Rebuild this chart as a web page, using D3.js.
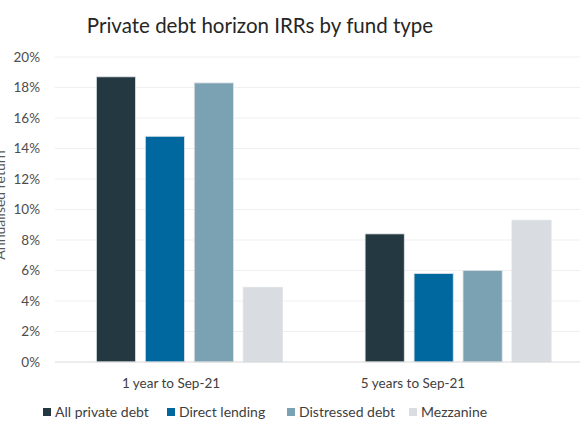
<!DOCTYPE html>
<html>
<head>
<meta charset="utf-8">
<script src="https://cdn.jsdelivr.net/npm/d3@7"></script>
<style>
  body { margin: 0; background: #fff; }
  svg { display: block; font-family: Lato, "Open Sans", sans-serif; }
</style>
</head>
<body>
<div id="chart"></div>
<script>
// data
const periods = ["1 year to Sep-21", "5 years to Sep-21"];
const fundTypes = ["All private debt", "Direct lending", "Distressed debt", "Mezzanine"];
const allPrivateDebt = [0.187, 0.084];
const directLending = [0.148, 0.058];
const distressedDebt = [0.183, 0.060];
const mezzanine = [0.049, 0.093];
const yTicks = [0, 0.02, 0.04, 0.06, 0.08, 0.10, 0.12, 0.14, 0.16, 0.18, 0.20];

const colours = ["#243842", "#00679f", "#7aa2b3", "#d9dce1"];

const seriesValues = [allPrivateDebt, directLending, distressedDebt, mezzanine];
const data = periods.map((p, i) => ({
    period: p,
    values: fundTypes.map((f, j) => ({ type: f, value: seriesValues[j][i] }))
}));

const width = 580, height = 435;
const plot = { left: 55, right: 592.5, top: 57, bottom: 362 };

const svg = d3.select("#chart")
    .append("svg")
    .attr("width", width)
    .attr("height", height);

// title
svg.append("text")
    .attr("x", 260)
    .attr("y", 33)
    .attr("text-anchor", "middle")
    .attr("font-size", 20.5)
    .attr("fill", "#262626")
    .text("Private debt horizon IRRs by fund type");

// scales
const x0 = d3.scaleBand()
    .domain(periods)
    .range([plot.left, plot.right])
    .paddingInner(0.2714)
    .paddingOuter(0.1357);

const x1 = d3.scaleBand()
    .domain(fundTypes)
    .range([0, x0.bandwidth()])
    .paddingInner(0.2)
    .paddingOuter(0.1);

const y = d3.scaleLinear()
    .domain([0, 0.2])
    .range([plot.bottom, plot.top]);

const colour = d3.scaleOrdinal().domain(fundTypes).range(colours);

// gridlines
svg.append("g")
    .selectAll("line")
    .data(yTicks.slice(1))
    .enter()
    .append("line")
    .attr("x1", plot.left)
    .attr("x2", width)
    .attr("y1", d => y(d))
    .attr("y2", d => y(d))
    .attr("stroke", "#efefef")
    .attr("stroke-width", 1);

// y axis labels
const yAxis = d3.axisLeft(y)
    .tickValues(yTicks)
    .tickFormat(d3.format(".0%"))
    .tickSize(0)
    .tickPadding(15);

svg.append("g")
    .attr("transform", `translate(${plot.left},0)`)
    .call(yAxis)
    .call(g => g.select(".domain").remove())
    .call(g => g.selectAll("text")
        .attr("font-size", 13.5)
        .attr("font-family", "Lato, sans-serif")
        .attr("fill", "#4d4d4d"));

// y axis title, partly cut off at the left edge as in the original
svg.append("text")
    .attr("transform", "rotate(-90)")
    .attr("x", -205)
    .attr("y", 5)
    .attr("text-anchor", "middle")
    .attr("font-size", 14)
    .attr("fill", "#595959")
    .text("Annualised return");

// bars
const groups = svg.selectAll(".group")
    .data(data)
    .enter()
    .append("g")
    .attr("class", "group")
    .attr("transform", d => `translate(${x0(d.period)},0)`);

groups.selectAll("rect")
    .data(d => d.values)
    .enter()
    .append("rect")
    .attr("x", d => x1(d.type))
    .attr("y", d => y(d.value))
    .attr("width", x1.bandwidth())
    .attr("height", d => y(0) - y(d.value))
    .attr("fill", d => colour(d.type))
    .attr("stroke", "#dde2e6")
    .attr("stroke-width", 0.8);

// baseline
svg.append("line")
    .attr("x1", plot.left)
    .attr("x2", width)
    .attr("y1", y(0))
    .attr("y2", y(0))
    .attr("stroke", "#d9d9d9")
    .attr("stroke-width", 1);

// category labels (Excel places them left of the bar groups)
const xLabel = d3.scalePoint()
    .domain(periods)
    .range([171, 413]);

svg.append("g")
    .selectAll("text")
    .data(periods)
    .enter()
    .append("text")
    .attr("x", d => xLabel(d))
    .attr("y", 388)
    .attr("text-anchor", "middle")
    .attr("font-size", 13.5)
    .attr("fill", "#404040")
    .text(d => d);

// legend
const legendX = [43, 167, 287, 409];
const legend = svg.append("g")
    .selectAll("g")
    .data(fundTypes)
    .enter()
    .append("g")
    .attr("transform", (d, i) => `translate(${legendX[i]},0)`);

legend.append("rect")
    .attr("x", 0)
    .attr("y", 408)
    .attr("width", 8)
    .attr("height", 8)
    .attr("fill", d => colour(d));

legend.append("text")
    .attr("x", 12)
    .attr("y", 417)
    .attr("font-size", 14)
    .attr("fill", "#404040")
    .text(d => d);
</script>
</body>
</html>
